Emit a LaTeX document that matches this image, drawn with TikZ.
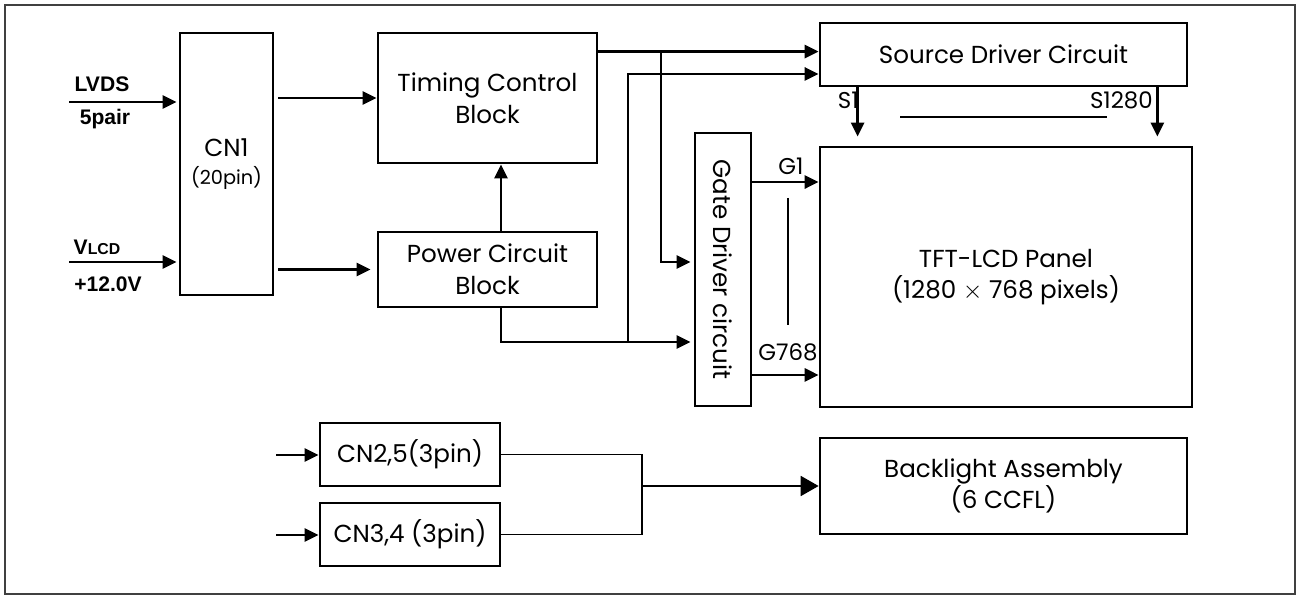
\documentclass[tikz,border=0pt]{standalone}
\usepackage{fontspec}
\setmainfont{Poppins}
\newfontfamily\arialfont{Liberation Sans}
\usetikzlibrary{arrows.meta,positioning}

\begin{document}
\begin{tikzpicture}[
    x=0.02cm, y=-0.02cm,
    blk/.style={draw, line width=1.6pt, align=center, inner sep=0pt,
                font=\fontsize{14}{18}\selectfont},
    arr/.style={-{Triangle[length=0.28cm,width=0.26cm]}, line width=1.6pt},
    wire/.style={line width=1.1pt},
    tag/.style={inner sep=0pt, font=\fontsize{13}{15}\selectfont},
    inlbl/.style={inner sep=0pt, font=\arialfont\bfseries\fontsize{12}{14}\selectfont}
]
\useasboundingbox (0,0) rectangle (1305,597);
\draw[line width=0.9pt, black!75] (5,5) rectangle (1295,594);

% blocks
\node[blk, minimum width=1.86cm, minimum height=5.24cm] (cn1) at (226.5,164)
    {CN1\\[-2pt]{\fontsize{11}{13}\selectfont(20pin)}};
\node[blk, minimum width=4.38cm, minimum height=2.6cm] (timing) at (487.5,98)
    {Timing Control\\Block};
\node[blk, minimum width=4.38cm, minimum height=1.5cm] (power) at (487.5,269.5)
    {Power Circuit\\Block};
\node[blk, minimum width=7.34cm, minimum height=1.26cm] (source) at (1003.5,54.5)
    {Source Driver Circuit};
\node[blk, minimum width=1.12cm, minimum height=5.46cm] (gate) at (723,269.5)
    {\rotatebox{-90}{Gate Driver circuit}};
\node[blk, minimum width=7.44cm, minimum height=5.2cm] (panel) at (1006,277)
    {TFT-LCD Panel\\(1280 $\times$ 768 pixels)};
\node[blk, minimum width=3.6cm, minimum height=1.26cm] (cn25) at (410,454.5)
    {CN2,5(3pin)};
\node[blk, minimum width=3.6cm, minimum height=1.26cm] (cn34) at (410,534.5)
    {CN3,4 (3pin)};
\node[blk, minimum width=7.34cm, minimum height=1.92cm] (backlight) at (1003.5,486)
    {Backlight Assembly\\(6 CCFL)};

% inputs to CN1
\coordinate (lvdsin) at (69,102);
\coordinate (vlcdin) at (69,262);
\draw[arr] (lvdsin) -- ([xshift=-0.04cm]lvdsin -| cn1.west);
\draw[arr] (vlcdin) -- ([xshift=-0.04cm]vlcdin -| cn1.west);
\node[inlbl] (lvdslbl) at (102,84) {LVDS};
\node[inlbl] (pairlbl) at (105,119) {5pair};
\node[inlbl] (vlcdlbl) at (97,247) {V{\fontsize{9}{10}\selectfont LCD}};
\node[inlbl] (voltlbl) at (108,284) {+12.0V};

% CN1 to blocks
\draw[arr] ([xshift=0.08cm]cn1.east |- timing.west) -- (timing.west);
\draw[arr] ([xshift=0.08cm]cn1.east |- power.west) -- ([xshift=-0.12cm]power.west);
\draw[arr] ([xshift=0.27cm]power.north) -- ([xshift=0.27cm]timing.south);

% timing and power to drivers
\coordinate (tc1) at ([yshift=-0.4cm]timing.north east);
\coordinate (tbr) at (661,0);
\coordinate (pbr) at (628,0);
\coordinate (pw) at ([yshift=-1.45cm]gate.west);
\draw[arr] (tc1) -- (tc1 -| source.west);
\draw[arr] (tc1 -| tbr) |- ([yshift=0.15cm,xshift=-0.06cm]gate.west);
\draw[arr] ([xshift=0.27cm]power.south) |- ([xshift=-0.06cm]pw);
\draw[arr] (pw -| pbr) |- ([yshift=-0.39cm]source.west);

% gate lines
\coordinate (g1) at ([yshift=1.75cm]gate.east);
\coordinate (g768) at ([yshift=-2.11cm]gate.east);
\draw[arr] (g1) -- (g1 -| panel.west);
\draw[arr] (g768) -- (g768 -| panel.west);
\node[tag] (g1lbl) at (791,166) {G1};
\node[tag] (g768lbl) at (788,352) {G768};
\coordinate (gtop) at (788,198);
\coordinate (gbot) at (788,325);
\draw[line width=1.2pt] (gtop) -- (gbot);

% source lines
\coordinate (s1) at ([xshift=0.78cm]source.south west);
\coordinate (s1280) at ([xshift=-0.62cm]source.south east);
\draw[arr, shorten >=0.18cm] (s1) -- (s1 |- panel.north);
\draw[arr, shorten >=0.18cm] (s1280) -- (s1280 |- panel.north);
\node[tag, anchor=east] (s1lbl) at (859,100) {S1};
\node[tag, anchor=east] (s1280lbl) at (1153,100) {S1280};
\coordinate (sleft) at (900,117);
\coordinate (sright) at (1107,117);
\draw[line width=1.2pt] (sleft) -- (sright);

% backlight inputs
\coordinate (bl1) at (276,455);
\coordinate (bl2) at (276,535);
\draw[arr] (bl1) -- (bl1 -| cn25.west);
\draw[arr] (bl2) -- (bl2 -| cn34.west);
\coordinate (bj) at (642,486);
\draw[wire] (cn25.east) -| (bj) |- (cn34.east);
\draw[wire, -{Triangle[length=0.36cm,width=0.4cm]}] (bj) -- (backlight.west);
\end{tikzpicture}
\end{document}
